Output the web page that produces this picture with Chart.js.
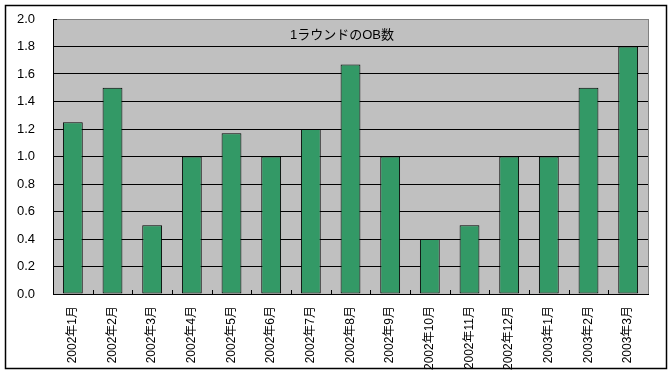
<!DOCTYPE html>
<html lang="ja">
<head>
    <meta charset="UTF-8">
    <script src="https://cdn.jsdelivr.net/npm/chart.js"></script>
    <title>1ラウンドのOB数</title>
    <style>
        body {
            margin: 0;
            background-color: #ffffff;
        }
        canvas {
            display: block;
        }
    </style>
</head>
<body>
    <canvas id="obChart" width="672" height="373"></canvas>

    <script>
        // Data
        const months = ['2002年1月', '2002年2月', '2002年3月', '2002年4月', '2002年5月',
            '2002年6月', '2002年7月', '2002年8月', '2002年9月', '2002年10月',
            '2002年11月', '2002年12月', '2003年1月', '2003年2月', '2003年3月'];
        const obPerRound = [1.25, 1.5, 0.5, 1.0, 1.17, 1.0, 1.2, 1.67, 1.0, 0.4, 0.5, 1.0, 1.0, 1.5, 1.8];
        const chartTitle = '1ラウンドのOB数';

        const fontFamily = '"Liberation Sans", Arial, "Noto Sans CJK JP", sans-serif';

        // Gray plot area, frame, inner ticks and the title inside the plot
        const excelLook = {
            id: 'excelLook',
            beforeDraw(chart) {
                const { ctx, chartArea: a } = chart;
                ctx.save();
                ctx.fillStyle = '#ffffff';
                ctx.fillRect(0, 0, chart.width, chart.height);
                ctx.strokeStyle = '#000000';
                ctx.lineWidth = 1.5;
                ctx.strokeRect(5.5, 5.5, 661, 363);
                ctx.fillStyle = '#c0c0c0';
                ctx.fillRect(a.left, a.top, a.right - a.left, a.bottom - a.top);
                ctx.restore();
            },
            afterDatasetsDraw(chart) {
                const { ctx, chartArea: a } = chart;
                ctx.save();
                // right edge of the plot area
                ctx.strokeStyle = '#808080';
                ctx.lineWidth = 1;
                ctx.beginPath();
                ctx.moveTo(Math.round(a.right) + 0.5, a.top);
                ctx.lineTo(Math.round(a.right) + 0.5, a.bottom);
                ctx.stroke();
                // short tick marks between categories, pointing inwards
                ctx.strokeStyle = '#000000';
                ctx.beginPath();
                const step = (a.right - a.left) / months.length;
                for (let i = 1; i < months.length; i++) {
                    const x = Math.round(a.left + step * i) + 0.5;
                    ctx.moveTo(x, a.bottom);
                    ctx.lineTo(x, a.bottom - 4);
                }
                ctx.moveTo(a.left, Math.round(a.top) + 0.5);
                ctx.lineTo(a.left + 4, Math.round(a.top) + 0.5);
                ctx.stroke();
                // title
                ctx.fillStyle = '#000000';
                ctx.font = '13px ' + fontFamily;
                ctx.textAlign = 'center';
                ctx.textBaseline = 'middle';
                ctx.fillText(chartTitle, 342, a.top + 16);
                ctx.restore();
            }
        };

        new Chart(document.getElementById('obChart'), {
            type: 'bar',
            data: {
                labels: months,
                datasets: [{
                    label: chartTitle,
                    data: obPerRound,
                    backgroundColor: '#339966',
                    borderColor: '#000000',
                    borderWidth: 1,
                    borderSkipped: false,
                    categoryPercentage: 1.0,
                    barPercentage: 0.5
                }]
            },
            options: {
                responsive: false,
                animation: false,
                devicePixelRatio: 1,
                layout: {
                    padding: { top: 19, right: 24, bottom: 0, left: 0 }
                },
                plugins: {
                    legend: { display: false },
                    title: { display: false },
                    tooltip: { enabled: false }
                },
                scales: {
                    x: {
                        afterFit(scale) {
                            scale.height = 79;
                            scale.paddingLeft = 0;
                            scale.paddingRight = 0;
                        },
                        grid: { drawOnChartArea: false, drawTicks: false },
                        border: { display: true, color: '#000000', width: 1 },
                        ticks: {
                            minRotation: 90,
                            maxRotation: 90,
                            autoSkip: false,
                            padding: 12,
                            color: '#000000',
                            font: { family: fontFamily, size: 12 }
                        }
                    },
                    y: {
                        min: 0,
                        max: 2.0,
                        afterFit(scale) {
                            scale.width = 53;
                            scale.paddingTop = 0;
                            scale.paddingBottom = 0;
                        },
                        grid: {
                            drawTicks: false,
                            color: ctx => (ctx.tick && ctx.tick.value === 2) ? '#808080' : '#000000',
                            lineWidth: 1
                        },
                        border: { display: true, color: '#000000', width: 1 },
                        ticks: {
                            stepSize: 0.2,
                            padding: 18,
                            color: '#000000',
                            font: { family: fontFamily, size: 13 },
                            callback: v => Number(v).toFixed(1)
                        }
                    }
                }
            },
            plugins: [excelLook]
        });
    </script>
</body>
</html>
